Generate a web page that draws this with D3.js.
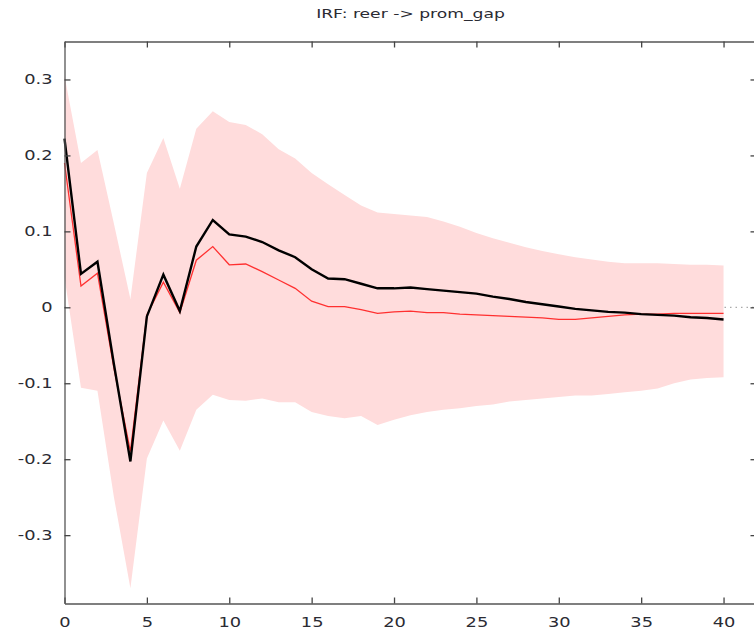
<!DOCTYPE html>
<html>
  <head>
    <meta charset="utf-8">
    <title>IRF: reer -> prom_gap</title>
    <style>
      body { margin: 0; background: #fff; }
      text { font-family: "DejaVu Sans", Verdana, sans-serif; fill: #2b2b33; }
    </style>
  </head>
  <body>
    <script src="https://d3js.org/d3.v7.min.js"></script>
    <svg id="chart" width="754" height="638"></svg>
    <script>
      const width = 754, height = 638
      const margin = { top: 41.5, right: -2.5, bottom: 34.5, left: 64.5 }

      const title = 'IRF: reer -> prom_gap'
      const xTicks = [0, 5, 10, 15, 20, 25, 30, 35, 40]
      const yTicks = [-0.3, -0.2, -0.1, 0, 0.1, 0.2, 0.3]

      // periods 0..40
      const periods = d3.range(0, 41)
      // point estimate (black)
      const irf = [0.222, 0.044, 0.06, -0.075, -0.203, -0.012, 0.043, -0.005, 0.08, 0.115,
        0.096, 0.093, 0.086, 0.075, 0.066, 0.05, 0.038, 0.037, 0.031, 0.025,
        0.025, 0.026, 0.024, 0.022, 0.02, 0.018, 0.014, 0.011, 0.007, 0.004,
        0.001, -0.002, -0.004, -0.006, -0.007, -0.009, -0.01, -0.011, -0.013, -0.014,
        -0.016]
      // bootstrap median (red)
      const median = [0.19, 0.028, 0.045, -0.08, -0.19, -0.01, 0.033, -0.007, 0.062, 0.08,
        0.056, 0.057, 0.047, 0.036, 0.025, 0.008, 0.001, 0.001, -0.003, -0.008,
        -0.006, -0.005, -0.007, -0.007, -0.009, -0.01, -0.011, -0.012, -0.013, -0.014,
        -0.016, -0.016, -0.014, -0.012, -0.01, -0.009, -0.009, -0.008, -0.008, -0.008,
        -0.008]
      // confidence band
      const upper = [0.305, 0.19, 0.207, 0.11, 0.011, 0.177, 0.223, 0.156, 0.235, 0.258,
        0.244, 0.24, 0.228, 0.208, 0.196, 0.177, 0.162, 0.148, 0.134, 0.125,
        0.123, 0.121, 0.119, 0.113, 0.106, 0.098, 0.091, 0.085, 0.079, 0.074,
        0.07, 0.066, 0.063, 0.06, 0.058, 0.058, 0.058, 0.057, 0.056, 0.056,
        0.055]
      const lower = [0.04, -0.106, -0.11, -0.25, -0.37, -0.199, -0.149, -0.189, -0.135, -0.115,
        -0.122, -0.123, -0.12, -0.125, -0.125, -0.138, -0.143, -0.146, -0.143, -0.155,
        -0.148, -0.142, -0.138, -0.135, -0.133, -0.13, -0.128, -0.124, -0.122, -0.12,
        -0.118, -0.116, -0.116, -0.114, -0.112, -0.11, -0.107, -0.1, -0.095, -0.093,
        -0.092]

      const rows = periods.map((p, i) => ({
        p, irf: irf[i], med: median[i], lo: lower[i], hi: upper[i]
      }))

      const x = d3.scaleLinear([0, 42], [margin.left, width - margin.right])
      const y = d3.scaleLinear([-0.39, 0.35], [height - margin.bottom, margin.top])

      const svg = d3.select('#chart')
      const stretch = 'scale(1.32,1)'

      // dotted zero line (mostly hidden behind the band)
      svg.append('line')
        .attr('x1', x(0)).attr('x2', x(42))
        .attr('y1', y(0)).attr('y2', y(0))
        .attr('stroke', '#aaa')
        .attr('stroke-width', 1.2)
        .attr('stroke-dasharray', '1.5,4')

      const area = d3.area()
        .x(d => x(d.p))
        .y0(d => y(d.lo))
        .y1(d => y(d.hi))

      svg.append('path')
        .datum(rows)
        .attr('d', area)
        .attr('fill', '#ffdcdc')

      const line = key => d3.line()
        .x(d => x(d.p))
        .y(d => y(d[key]))

      svg.append('path')
        .datum(rows)
        .attr('d', line('med'))
        .attr('fill', 'none')
        .attr('stroke', '#ff3030')
        .attr('stroke-width', 1.3)

      svg.append('path')
        .datum(rows)
        .attr('d', line('irf'))
        .attr('fill', 'none')
        .attr('stroke', '#000')
        .attr('stroke-width', 2.4)
        .attr('stroke-linejoin', 'miter')

      // axes, ticks pointing inward on all four sides
      const styleAxis = g => {
        g.select('.domain').attr('stroke', '#555').attr('stroke-width', 1.3)
        g.selectAll('.tick line').attr('stroke', '#444').attr('stroke-width', 1.3)
      }

      svg.append('g')
        .attr('transform', `translate(0,${y(-0.39)})`)
        .call(d3.axisBottom(x).tickValues(xTicks).tickSize(-6).tickSizeOuter(0).tickPadding(14))
        .call(styleAxis)
        .call(g => g.selectAll('text')
          .attr('font-size', 13.5)
          .attr('transform', function () {
            const ty = d3.select(this).attr('y')
            return `translate(0,${ty}) ${stretch}`
          })
          .attr('y', 0))

      svg.append('g')
        .attr('transform', `translate(0,${y(0.35)})`)
        .call(d3.axisTop(x).tickValues(xTicks).tickSize(-6).tickSizeOuter(0).tickFormat(''))
        .call(styleAxis)

      svg.append('g')
        .attr('transform', `translate(${x(0)},0)`)
        .call(d3.axisLeft(y).tickValues(yTicks).tickSize(-6).tickSizeOuter(0).tickPadding(12)
          .tickFormat(d => d === 0 ? '0' : d3.format('.1f')(d).replace('\u2212', '-')))
        .call(styleAxis)
        .call(g => g.selectAll('text')
          .attr('font-size', 13.5)
          .attr('transform', `translate(-12,0) ${stretch}`)
          .attr('x', 0))

      svg.append('g')
        .attr('transform', `translate(${x(42)},0)`)
        .call(d3.axisRight(y).tickValues(yTicks).tickSize(-6).tickSizeOuter(0).tickFormat(''))
        .call(styleAxis)

      svg.append('text')
        .attr('transform', `translate(${(x(0) + x(42)) / 2},18) ${stretch}`)
        .attr('text-anchor', 'middle')
        .attr('font-size', 13)
        .text(title)
    </script>
  </body>
</html>
